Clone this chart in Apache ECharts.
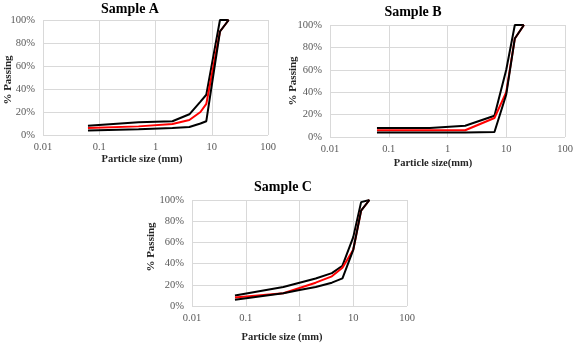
<!DOCTYPE html>
<html>
<head>
<meta charset="utf-8">
<script src="https://cdn.jsdelivr.net/npm/echarts@6/dist/echarts.min.js"></script>
<style>
html,body{margin:0;padding:0;background:#fff;}
#c{width:579px;height:343px;}
</style>
</head>
<body>
<div id="c"></div>
<script>
// ---- Data (particle size in mm, % passing) ----
var titles = ['Sample A', 'Sample B', 'Sample C'];
var xNames = ['Particle size (mm)', 'Particle size(mm)', 'Particle size (mm)'];
var yName = '% Passing';
var xTicks = [0.01, 0.1, 1, 10, 100];
var yTicks = [0, 20, 40, 60, 80, 100];

var sizesA = [0.063, 0.5, 2, 4, 6.3, 8, 14, 20];
var upperA = [8, 11, 12, 18, 29, 35, 100, 100];
var meanA  = [6, 7.5, 9.5, 13, 20, 27, 90, 100];
var lowerA = [4, 5, 6, 7, 10, 12, 90, 100];

var sizesB = [0.063, 0.5, 2, 6.3, 10, 14, 20];
var upperB = [8, 8, 10, 19, 60, 100, 100];
var meanB  = [6, 6, 6, 17, 40, 88, 100];
var lowerB = [4, 4, 4, 4.5, 38, 88, 100];

var sizesC = [0.063, 0.5, 1, 2, 4, 6.3, 10, 14, 20];
var upperC = [10, 18, 22, 26, 31, 38, 65, 98, 100];
var meanC  = [8, 12, 17, 22, 28, 36, 53, 90, 100];
var lowerC = [6, 12, 15, 18, 22, 26, 53, 90, 100];

function pairs(xs, ys){ return xs.map(function(x,i){ return [x, ys[i]]; }); }

var FONT = "'Liberation Serif','DejaVu Serif',serif";
var grids = [
  {left:43, top:20, width:225, height:115},
  {left:330, top:25, width:235, height:112},
  {left:192, top:200, width:215, height:106}
];
var panels = [
  {sizes:sizesA, up:upperA, mid:meanA, lo:lowerA},
  {sizes:sizesB, up:upperB, mid:meanB, lo:lowerB},
  {sizes:sizesC, up:upperC, mid:meanC, lo:lowerC}
];
var titlePos = [[130,9],[413,12],[283,187]];
var xNamePos = [[142,159],[433,163],[282,337]];
var yNamePos = [[8,80],[293,81],[151,247]];

var xAxes = [], yAxes = [], series = [], graphics = [];
grids.forEach(function(g, i){
  xAxes.push({
    type:'log', logBase:10, gridIndex:i, min:xTicks[0], max:xTicks[xTicks.length-1],
    axisLine:{show:false}, axisTick:{show:false},
    splitLine:{show:true, lineStyle:{color:'#d9d9d9', width:1}},
    axisLabel:{color:'#595959', fontFamily:FONT, fontSize:10.5, margin:7,
      formatter:function(v){ return String(parseFloat(Number(v).toPrecision(6))); }}
  });
  yAxes.push({
    type:'value', gridIndex:i, min:yTicks[0], max:yTicks[yTicks.length-1], interval:20,
    axisLine:{show:false}, axisTick:{show:false},
    splitLine:{show:true, lineStyle:{color:'#d9d9d9', width:1}},
    axisLabel:{color:'#595959', fontFamily:FONT, fontSize:10.5, margin:8, formatter:'{value}%'}
  });
  var p = panels[i];
  series.push({type:'line', xAxisIndex:i, yAxisIndex:i, data:pairs(p.sizes,p.up), symbol:'none',
    lineStyle:{color:'#000', width:2}, z:2});
  series.push({type:'line', xAxisIndex:i, yAxisIndex:i, data:pairs(p.sizes,p.mid), symbol:'none',
    lineStyle:{color:'#ff0000', width:2}, z:3});
  series.push({type:'line', xAxisIndex:i, yAxisIndex:i, data:pairs(p.sizes,p.lo), symbol:'none',
    lineStyle:{color:'#000', width:2}, z:4});
  graphics.push({type:'text', x:titlePos[i][0], y:titlePos[i][1],
    style:{text:titles[i], font:"bold 14px "+FONT, fill:'#000', align:'center', verticalAlign:'middle'}});
  graphics.push({type:'text', x:xNamePos[i][0], y:xNamePos[i][1],
    style:{text:xNames[i], font:"bold 10.5px "+FONT, fill:'#262626', align:'center', verticalAlign:'middle'}});
  graphics.push({type:'text', x:yNamePos[i][0], y:yNamePos[i][1], rotation:Math.PI/2,
    style:{text:yName, font:"bold 11px "+FONT, fill:'#262626', align:'center', verticalAlign:'middle'}});
});

var chart = echarts.init(document.getElementById('c'), null, {renderer:'canvas'});
chart.setOption({
  animation:false,
  backgroundColor:'#fff',
  grid:grids,
  xAxis:xAxes,
  yAxis:yAxes,
  series:series,
  graphic:graphics
});
</script>
</body>
</html>
